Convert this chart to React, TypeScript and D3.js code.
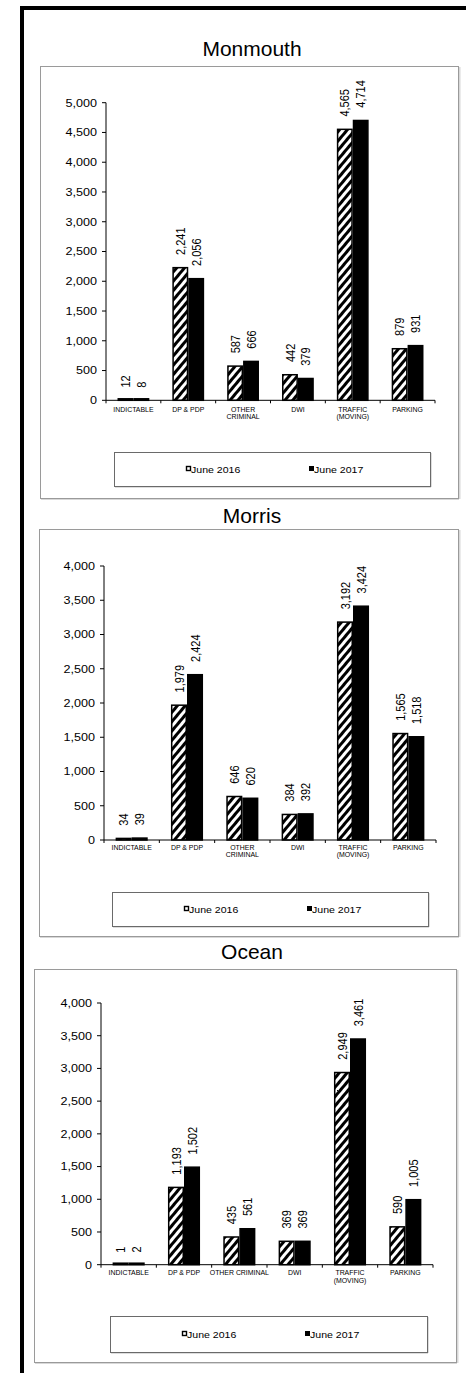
import React from "react";
import * as d3 from "d3";

const categories = ["INDICTABLE", "DP & PDP", "OTHER CRIMINAL", "DWI", "TRAFFIC (MOVING)", "PARKING"];
const seriesNames = ["June 2016", "June 2017"];

const countyNames = ["Monmouth", "Morris", "Ocean"];

const monmouth2016 = [12, 2241, 587, 442, 4565, 879];
const monmouth2017 = [8, 2056, 666, 379, 4714, 931];
const morris2016 = [34, 1979, 646, 384, 3192, 1565];
const morris2017 = [39, 2424, 620, 392, 3424, 1518];
const ocean2016 = [1, 1193, 435, 369, 2949, 590];
const ocean2017 = [2, 1502, 561, 369, 3461, 1005];

const ticks5000 = [0, 500, 1000, 1500, 2000, 2500, 3000, 3500, 4000, 4500, 5000];
const ticks4000 = [0, 500, 1000, 1500, 2000, 2500, 3000, 3500, 4000];

const FONT = "'Liberation Sans', Arial, sans-serif";
const fmt = d3.format(",");

type Layout = {
  box: { x: number; y: number; w: number; h: number };
  titleY: number;
  x0: number;
  x1: number;
  zero: number;
  top: number;
  catY: number;
  legend: { x: number; y: number; w: number; h: number };
  wrapOther: boolean;
};

const layouts: Layout[] = [
  { box: { x: 40, y: 66, w: 418, h: 432 }, titleY: 56, x0: 106, x1: 435, zero: 400.3, top: 102.7, catY: 411.5, legend: { x: 114, y: 452, w: 316, h: 34 }, wrapOther: true },
  { box: { x: 39, y: 529, w: 419, h: 407 }, titleY: 522.5, x0: 104, x1: 436, zero: 840, top: 566, catY: 849.5, legend: { x: 112, y: 892, w: 316, h: 34 }, wrapOther: true },
  { box: { x: 34, y: 969, w: 422, h: 393 }, titleY: 959.3, x0: 101, x1: 433, zero: 1264.7, top: 1003, catY: 1275, legend: { x: 110, y: 1316, w: 317, h: 36 }, wrapOther: false },
];

function splitLabel(label: string, wrapOther: boolean): string[] {
  if (label === "TRAFFIC (MOVING)") return ["TRAFFIC", "(MOVING)"];
  if (label === "OTHER CRIMINAL" && wrapOther) return ["OTHER", "CRIMINAL"];
  return [label];
}

function SText({ x, y, sx = 1, size, anchor = "middle", children, fill = "#000" }: any) {
  return (
    <g transform={`translate(${x},${y}) scale(${sx},1)`}>
      <text x={0} y={0} fontSize={size} fontWeight={400} textAnchor={anchor} fill={fill} fontFamily={FONT}>
        {children}
      </text>
    </g>
  );
}

function Panel({ idx, lay, v16, v17, ticks }: { idx: number; lay: Layout; v16: number[]; v17: number[]; ticks: number[] }) {
  const maxY = ticks[ticks.length - 1];
  const x = d3.scaleBand<string>().domain(categories).range([lay.x0, lay.x1]).padding(0);
  const bw = x.bandwidth();
  const gap = bw * 0.21;
  const inner = d3.scaleBand<string>().domain(seriesNames).range([gap, bw - gap]).padding(0);
  const y = d3.scaleLinear().domain([0, maxY]).range([lay.zero, lay.top]);
  const series = [v16, v17];
  const lg = lay.legend;
  const lcy = lg.y + lg.h / 2;
  return (
    <g>
      {/* box with shadow */}
      <line x1={lay.box.x + lay.box.w + 1.5} y1={lay.box.y + 1} x2={lay.box.x + lay.box.w + 1.5} y2={lay.box.y + lay.box.h + 1} stroke="#d8d8d8" strokeWidth={2} />
      <line x1={lay.box.x + 1} y1={lay.box.y + lay.box.h + 1.5} x2={lay.box.x + lay.box.w + 1} y2={lay.box.y + lay.box.h + 1.5} stroke="#d8d8d8" strokeWidth={1} />
      <rect x={lay.box.x + 0.5} y={lay.box.y + 0.5} width={lay.box.w} height={lay.box.h} fill="#fff" stroke="#9a9a9a" strokeWidth={1} />
      <SText x={252} y={lay.titleY} sx={1.05} size={20}>{countyNames[idx]}</SText>

      {/* bars */}
      {categories.map((c, i) =>
        seriesNames.map((s, j) => {
          const v = series[j][i];
          const bx = (x(c) as number) + (inner(s) as number);
          const w = inner.bandwidth();
          const yt = y(v);
          const h = Math.max(lay.zero - yt - 0.75, 1.5);
          const ry = lay.zero - h;
          return (
            <g key={c + s}>
              <rect
                x={bx + 0.75}
                y={ry}
                width={w - 1.5}
                height={h}
                fill={j === 0 ? "url(#hatch)" : "#000"}
                stroke="#000"
                strokeWidth={1.5}
              />
              <g transform={`translate(${bx + w / 2},${yt - 12}) scale(1.15,1) rotate(-90)`}>
                <text x={0} y={0} dy="0.36em" fontSize={11} fontFamily={FONT} textAnchor="start" fill="#000">
                  {fmt(v)}
                </text>
              </g>
            </g>
          );
        })
      )}

      {/* axes */}
      <line x1={lay.x0} y1={lay.top} x2={lay.x0} y2={lay.zero} stroke="#000" strokeWidth={1} />
      <line x1={lay.x0} y1={lay.zero} x2={lay.x1} y2={lay.zero} stroke="#000" strokeWidth={1} />
      {ticks.map((t) => (
        <g key={t}>
          <line x1={lay.x0 - 4} x2={lay.x0} y1={y(t)} y2={y(t)} stroke="#000" />
          <SText x={lay.x0 - 9} y={y(t) + 3.8} sx={1.2} size={10.5} anchor="end">{fmt(t)}</SText>
        </g>
      ))}
      {categories.map((c) => (
        <line key={"tk" + c} x1={x(c) as number} x2={x(c) as number} y1={lay.zero} y2={lay.zero + 3} stroke="#000" />
      ))}
      <line x1={lay.x1} x2={lay.x1} y1={lay.zero} y2={lay.zero + 3} stroke="#000" />
      {categories.map((c) =>
        splitLabel(c, lay.wrapOther).map((line, k) => (
          <SText key={c + k} x={(x(c) as number) + bw / 2} y={lay.catY + k * 7.6} sx={1.05} size={6.6}>
            {line}
          </SText>
        ))
      )}

      {/* legend */}
      <line x1={lg.x + lg.w + 1} y1={lg.y + 1} x2={lg.x + lg.w + 1} y2={lg.y + lg.h + 1} stroke="#bbb" strokeWidth={1} />
      <line x1={lg.x + 1} y1={lg.y + lg.h + 1} x2={lg.x + lg.w + 1} y2={lg.y + lg.h + 1} stroke="#bbb" strokeWidth={1} />
      <rect x={lg.x + 0.5} y={lg.y + 0.5} width={lg.w} height={lg.h} fill="#fff" stroke="#6a6a6a" strokeWidth={1} />
      <rect x={lg.x + 72.5} y={lcy - 2.5} width={4} height={4} fill="#fff" stroke="#000" strokeWidth={1.4} />
      <SText x={lg.x + 77} y={lcy + 3.5} sx={1.1} size={9.6} anchor="start">{seriesNames[0]}</SText>
      <rect x={lg.x + 195} y={lcy - 3} width={5} height={5} fill="#000" />
      <SText x={lg.x + 200} y={lcy + 3.5} sx={1.1} size={9.6} anchor="start">{seriesNames[1]}</SText>
    </g>
  );
}

export default function App() {
  const data = [
    { v16: monmouth2016, v17: monmouth2017, ticks: ticks5000 },
    { v16: morris2016, v17: morris2017, ticks: ticks4000 },
    { v16: ocean2016, v17: ocean2017, ticks: ticks4000 },
  ];
  return (
    <svg width={466} height={1373} style={{ position: "absolute", left: 0, top: 0, background: "#fff" }}>
      <defs>
        <pattern id="hatch" patternUnits="userSpaceOnUse" width={6} height={6} patternTransform="rotate(40)">
          <rect x={0} y={0} width={6} height={6} fill="#fff" />
          <rect x={0} y={0} width={3} height={6} fill="#000" />
        </pattern>
      </defs>
      <rect x={0} y={0} width={466} height={1373} fill="#fff" />
      {/* outer frame */}
      <rect x={20} y={6} width={446} height={4} fill="#000" />
      <rect x={20} y={6} width={4} height={1367} fill="#000" />
      {layouts.map((lay, i) => (
        <Panel key={i} idx={i} lay={lay} v16={data[i].v16} v17={data[i].v17} ticks={data[i].ticks} />
      ))}
    </svg>
  );
}
